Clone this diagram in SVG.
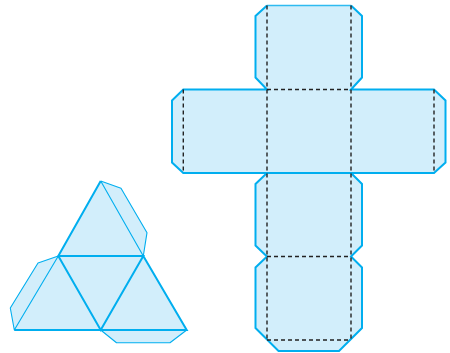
<svg xmlns="http://www.w3.org/2000/svg" width="450" height="353" viewBox="0 0 450 353">
<style>
.f{fill:#d2eefb;stroke:none}
.b{fill:none;stroke:#00aeef;stroke-width:2;stroke-linejoin:miter}
.t{fill:none;stroke:#00aeef;stroke-width:1.1;stroke-linejoin:round}
.d{fill:none;stroke:#222;stroke-width:1.4;stroke-dasharray:4 3}
</style>
<g id="cube-net">
<path class="f" d="M267 5.5H351L362 16V77.5L351 89.5H434L445.5 100.5V162.5L434 173H351L362 184V245.5L351 256.5L362 267.5V328L339 351H278.5L255.5 328V267.5L267 256.5L255.5 245.5V184L267 173H183.3L172 162.5V100.5L183.3 89.5H267L255.5 77.5V16Z"/>
<path class="b" d="M351 5.5L362 16V77.5L351 89.5H434L445.5 100.5V162.5L434 173H351L362 184V245.5L351 256.5L362 267.5V328L339 351H278.5L255.5 328V267.5L267 256.5L255.5 245.5V184L267 173H183.3L172 162.5V100.5L183.3 89.5H267L255.5 77.5V16L267 5.5"/>
<path d="M267 5.5H351" fill="none" stroke="#2fbaf0" stroke-width="1.6"/>
<path class="b" d="M267 173H351"/>
<path class="d" d="M267 5.5V340M351 5.5V340M267 89.5H351M267 256.5H351M267 340H351M183.3 89.5V173M434 89.5V173"/>
</g>
<g id="tetrahedron-net">
<path class="f" d="M100.7 181L121 188.3L147 232.7L143.3 256L186.7 330L170 342.7H116.5L100.7 330H14.3L10.3 308L38 263L58.3 256Z"/>
<path class="t" d="M100.7 181L121 188.3L147 232.7L143.3 256L100.7 181M58.3 256L38 263L10.3 308L14.3 330L58.3 256M100.7 330L116.5 342.7H170L186.7 330"/>
<path class="b" d="M143.3 256L186.7 330H14.3M100.7 181L58.3 256L100.7 330L143.3 256H58.3"/>
</g>
</svg>
